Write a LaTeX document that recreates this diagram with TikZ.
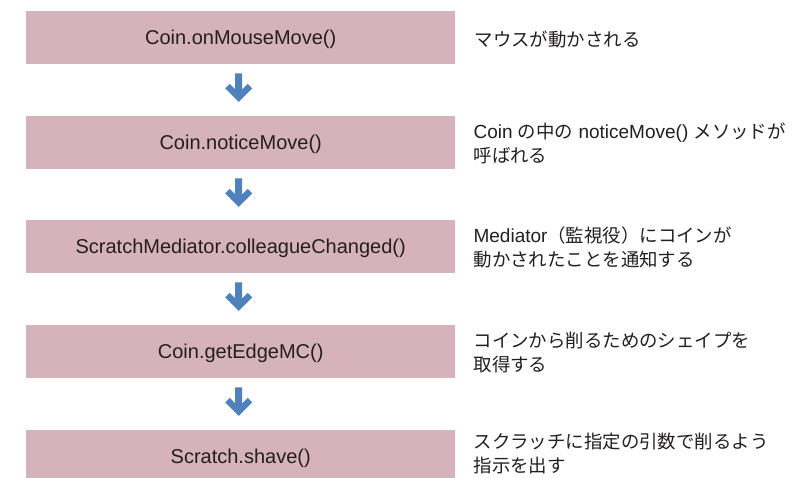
\documentclass[tikz,border=0pt]{standalone}
\usepackage{fontspec}
\setmainfont{Liberation Sans}
\newfontfamily\jp[Scale=0.97]{Noto Sans CJK JP}
\usetikzlibrary{calc}
\definecolor{boxfill}{HTML}{D6B2BA}
\definecolor{arrowblue}{HTML}{4F81BD}
\definecolor{ink}{HTML}{231F20}
\tikzset{
  stepbox/.style={fill=boxfill, minimum width=429pt, minimum height=53pt, inner sep=0pt,
    text height=15pt, text depth=0.6pt,
    font=\fontsize{20}{24}\selectfont, text=ink, anchor=north west},
  notetext/.style={anchor=west, align=left, font=\fontsize{19}{24}\selectfont, text=ink, inner sep=0pt},
  fatarrow/.style={fill=arrowblue, draw=none}
}
\newcommand{\downarrowshape}[1]{%
  \begin{scope}[shift={($(#1.south)+(-2,0)$)}]
    \fill[fatarrow] (-3.5,9) -- (3.5,9) -- (3.5,25) -- (9,19.5) -- (13.5,24) -- (0,37.5)
      -- (-13.5,24) -- (-9,19.5) -- (-3.5,25) -- cycle;
  \end{scope}}
\begin{document}
\begin{tikzpicture}[x=1pt,y=-1pt]
  \clip (0,0) rectangle (802,478);
  \fill[white] (0,0) rectangle (802,478);
  \node[stepbox] (b1) at (26,11)  {Coin.onMouseMove()};
  \node[stepbox] (b2) at (26,116) {Coin.noticeMove()};
  \node[stepbox] (b3) at (26,220) {ScratchMediator.colleagueChanged()};
  \node[stepbox] (b4) at (26,325) {Coin.getEdgeMC()};
  \node[stepbox] (b5) at (26,430) {Scratch.shave()};
  \downarrowshape{b1}
  \downarrowshape{b2}
  \downarrowshape{b3}
  \downarrowshape{b4}
  \node[notetext] (t1) at ($(b1.east)+(19,2)$) {{\jp マウスが動かされる}};
  \node[notetext] (t2) at ($(b2.east)+(18,1)$) {Coin {\jp の中の} noticeMove() {\jp メソッドが}\\{\jp 呼ばれる}};
  \node[notetext] (t3) at ($(b3.east)+(18,1)$) {Mediator{\jp （監視役）にコインが}\\{\jp 動かされたことを通知する}};
  \node[notetext] (t4) at ($(b4.east)+(18,1)$) {{\jp コインから削るためのシェイプを}\\{\jp 取得する}};
  \node[notetext] (t5) at ($(b5.east)+(18,-3)$) {{\jp スクラッチに指定の引数で削るよう}\\{\jp 指示を出す}};
\end{tikzpicture}
\end{document}
